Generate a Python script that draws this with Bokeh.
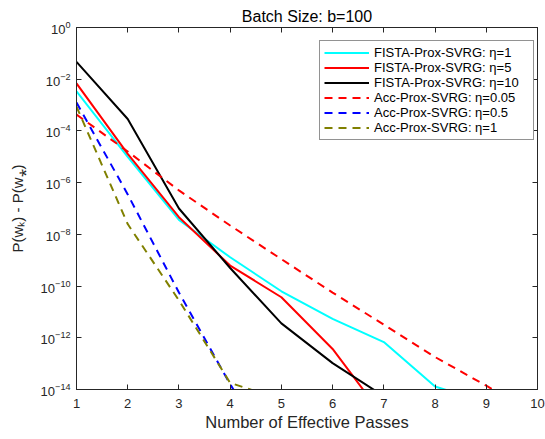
from bokeh.plotting import figure
from bokeh.models import LogAxis, LinearAxis, FixedTicker, Legend, LegendItem, CustomJSTickFormatter
from bokeh.embed import file_html
from bokeh.resources import INLINE

# ---------------- data ----------------
x_ticks = [1, 2, 3, 4, 5, 6, 7, 8, 9, 10]
y_ticks = [1e0, 1e-2, 1e-4, 1e-6, 1e-8, 1e-10, 1e-12, 1e-14]

fista_eta1_x = [1, 2, 3, 4, 5, 6, 7, 8, 9]
fista_eta1_y = [3.4e-3, 1.0e-5, 3.6e-8, 1.3e-9, 6.3e-11, 5.4e-12, 6.8e-13, 1.3e-14, 3.2e-15]

fista_eta5_x = [1, 2, 3, 4, 5, 6, 7]
fista_eta5_y = [6.9e-3, 1.3e-5, 4.6e-8, 6.2e-10, 3.7e-11, 3.7e-13, 8.5e-16]

fista_eta10_x = [1, 2, 3, 4, 5, 6, 7]
fista_eta10_y = [4.7e-2, 2.9e-4, 1.0e-7, 5.0e-10, 3.6e-12, 1.05e-13, 5.5e-15]

acc_eta005_x = [1, 2, 3, 4, 5, 6, 7, 8, 9, 10]
acc_eta005_y = [4.3e-4, 1.6e-5, 5.0e-7, 2.2e-8, 1.1e-9, 5.6e-11, 3.2e-12, 1.8e-13, 1.4e-14, 1.0e-15]

acc_eta05_x = [1, 2, 3, 4, 5]
acc_eta05_y = [1.26e-3, 3.5e-7, 5.6e-11, 1.6e-14, 1.0e-17]

acc_eta1_x = [1, 2, 3, 4, 5]
acc_eta1_y = [8.7e-4, 2.5e-8, 2.8e-11, 1.8e-14, 4.0e-15]

labels = [
    "FISTA-Prox-SVRG: η=1",
    "FISTA-Prox-SVRG: η=5",
    "FISTA-Prox-SVRG: η=10",
    "Acc-Prox-SVRG: η=0.05",
    "Acc-Prox-SVRG: η=0.5",
    "Acc-Prox-SVRG: η=1",
]

# ---------------- styling ----------------
FONT = "Liberation Sans"
AX = "#262626"

p = figure(width=545, height=439, x_range=(1, 10), y_range=(1e-14, 1),
           y_axis_type="log", output_backend="svg", toolbar_location=None,
           min_border_left=76, min_border_right=8, min_border_top=27,
           min_border_bottom=50)
p.background_fill_color = "white"
p.border_fill_color = "white"
p.outline_line_color = AX
p.xgrid.visible = False
p.ygrid.visible = False

p.title.text = "Batch Size: b=100"
p.title.align = "center"
p.title.text_font = FONT
p.title.text_font_size = "16px"
p.title.text_font_style = "normal"
p.title.text_color = "black"
p.title.standoff = 5


def style(ax, show_labels=True):
    ax.axis_line_color = AX
    ax.major_tick_line_color = AX
    ax.major_tick_in = 5
    ax.major_tick_out = 0
    ax.minor_tick_in = 0
    ax.minor_tick_out = 0
    ax.minor_tick_line_color = None
    ax.major_label_text_font = FONT
    ax.major_label_text_color = AX
    ax.major_label_text_font_size = "13px"
    if not show_labels:
        ax.formatter = CustomJSTickFormatter(code="return ''")
        ax.major_label_standoff = 0


xt = FixedTicker(ticks=x_ticks, minor_ticks=[])
yt = FixedTicker(ticks=y_ticks, minor_ticks=[])

p.xaxis.ticker = xt
p.yaxis.ticker = yt
style(p.xaxis[0])
style(p.yaxis[0])
p.xaxis.major_label_standoff = 9
p.yaxis.major_label_standoff = 6
p.xaxis.axis_label = "Number of Effective Passes"
p.yaxis.axis_label = "P(wₖ) - P(w⁎)"
for ax in (p.xaxis[0], p.yaxis[0]):
    ax.axis_label_text_font = FONT
    ax.axis_label_text_font_style = "normal"
    ax.axis_label_text_color = AX
p.xaxis.axis_label_text_font_size = "16.5px"
p.yaxis.axis_label_text_font_size = "15px"
p.xaxis.axis_label_standoff = 2
p.yaxis.axis_label_standoff = 12

top_ax = LinearAxis(ticker=xt)
style(top_ax, False)
p.add_layout(top_ax, "above")
right_ax = LogAxis(ticker=yt)
style(right_ax, False)
p.add_layout(right_ax, "right")

series = [
    (fista_eta1_x, fista_eta1_y, "#00FFFF", "solid"),
    (fista_eta5_x, fista_eta5_y, "#FF0000", "solid"),
    (fista_eta10_x, fista_eta10_y, "#000000", "solid"),
    (acc_eta005_x, acc_eta005_y, "#FF0000", "8 6"),
    (acc_eta05_x, acc_eta05_y, "#0000FF", "8 6"),
    (acc_eta1_x, acc_eta1_y, "#808000", "8 6"),
]
items = []
for (xs, ys, col, dash), lab in zip(series, labels):
    r = p.line(xs, ys, line_color=col, line_width=2, line_dash=dash)
    items.append(LegendItem(label=lab, renderers=[r]))

legend = Legend(items=items, location=(243, 249))
legend.border_line_color = AX
legend.border_line_width = 1
legend.background_fill_color = "white"
legend.background_fill_alpha = 1
legend.label_text_font = FONT
legend.label_text_font_size = "13px"
legend.label_text_color = "black"
legend.glyph_width = 45
legend.glyph_height = 15
legend.label_height = 15
legend.label_width = 155
legend.label_standoff = 5
legend.spacing = 0
legend.padding = 4
legend.margin = 0
p.add_layout(legend, "center")

open("out.html", "w").write(file_html(p, INLINE))
